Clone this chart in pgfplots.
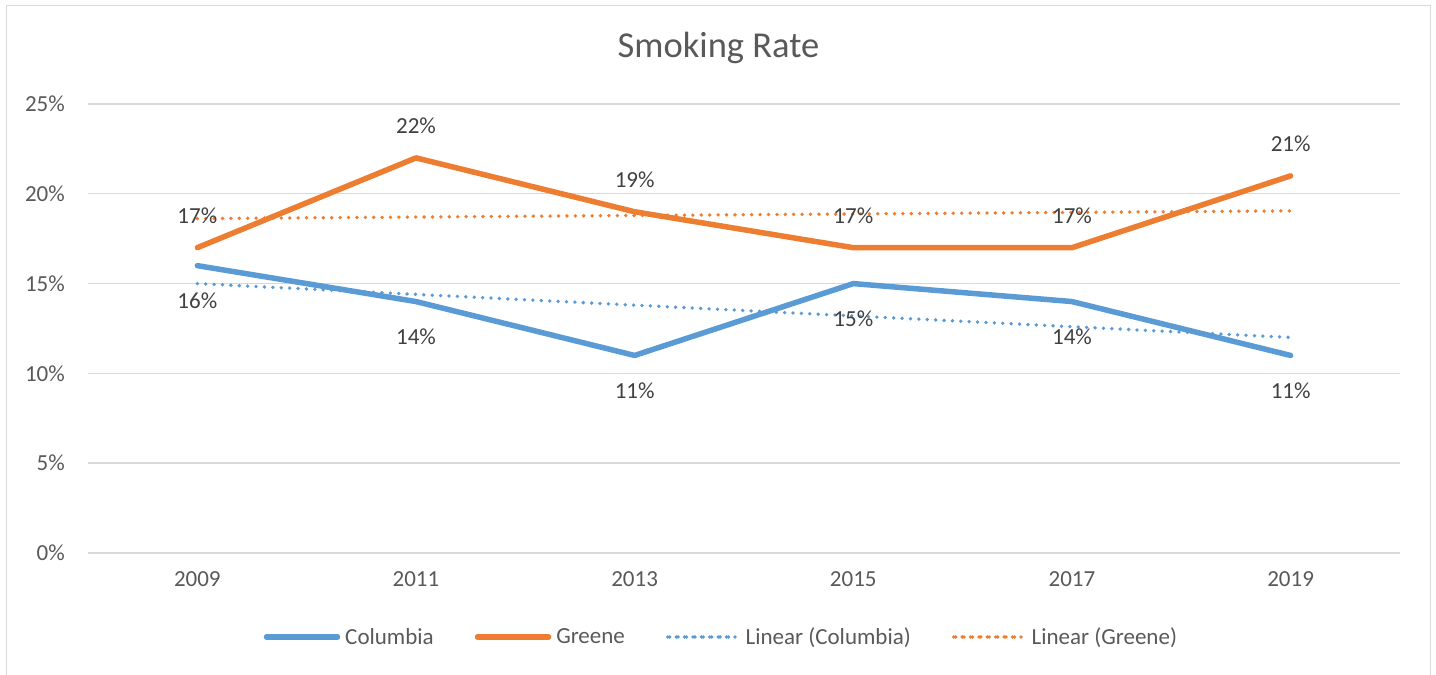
\documentclass[border=0pt]{standalone}
\usepackage{fontspec}
\setmainfont{Carlito}
\usepackage{pgfplots}
\pgfplotsset{compat=1.18}
\definecolor{cblue}{HTML}{5B9BD5}
\definecolor{corange}{HTML}{ED7D31}
\definecolor{gridc}{HTML}{D9D9D9}
\definecolor{ticktext}{HTML}{595959}
\definecolor{labtext}{HTML}{404040}
\newcommand{\lbl}{\fontsize{23}{27}\selectfont}
\pgfplotsset{
  solidleg/.style={legend image code/.code={\path (0pt,0pt) -- (71pt,0pt); \draw[##1] (2.75pt,0pt) -- (68.25pt,0pt);}},
  dotleg/.style={legend image code/.code={\path (0pt,0pt) -- (71pt,0pt); \draw[##1] (1.9pt,0pt) -- (64pt,0pt);}},
}
\begin{document}
\begin{tikzpicture}[x=1pt,y=1pt]
\useasboundingbox (0,0) rectangle (1436,675);
\draw[gridc, line width=1.6pt] (6.5,-10) -- (6.5,669.5) -- (1430.5,669.5) -- (1430.5,-10);
\node[text=ticktext, font=\fontsize{36.5}{42}\selectfont] at (718.5,627) {Smoking Rate};
\begin{axis}[
  at={(88pt,122pt)}, anchor=south west,
  scale only axis, width=1312pt, height=449pt,
  xmin=-0.5, xmax=5.5, ymin=0, ymax=25,
  xtick={0,1,2,3,4,5},
  xticklabels={2009,2011,2013,2015,2017,2019},
  ytick={0,5,10,15,20,25},
  yticklabels={0\%,5\%,10\%,15\%,20\%,25\%},
  ymajorgrids, grid style={gridc, line width=1.4pt},
  axis line style={draw=none}, tick style={draw=none},
  yticklabel style={anchor=east, inner sep=0pt, xshift=-23pt, text=ticktext, font=\lbl},
  xticklabel style={anchor=north, inner sep=0pt, yshift=-18pt, text=ticktext, font=\lbl},
  clip=false,
  legend columns=4,
  legend style={at={(0.482,-0.187)}, anchor=center, draw=none, fill=none, inner sep=0pt,
    font=\lbl, text=ticktext,
    nodes={inner sep=0pt},
    /tikz/every odd column/.append style={column sep=5pt},
    /tikz/every even column/.append style={column sep=41pt}},
]
\addplot[cblue, line width=5.5pt, line cap=round, line join=round, solidleg,
  point meta=explicit symbolic, nodes near coords,
  nodes near coords style={anchor=center, yshift=-35pt, text=labtext, font=\lbl, inner sep=0pt}]
  coordinates {(0,16) [16\%] (1,14) [14\%] (2,11) [11\%] (3,15) [15\%] (4,14) [14\%] (5,11) [11\%]};
\addlegendentry{Columbia}
\addplot[corange, line width=5.5pt, line cap=round, line join=round, solidleg,
  point meta=explicit symbolic, nodes near coords,
  nodes near coords style={anchor=center, yshift=32pt, text=labtext, font=\lbl, inner sep=0pt}]
  coordinates {(0,17) [17\%] (1,22) [22\%] (2,19) [19\%] (3,17) [17\%] (4,17) [17\%] (5,21) [21\%]};
\addlegendentry{Greene}
\addplot[cblue, line width=3.8pt, line cap=round, dash pattern=on 0pt off 8.4pt, dotleg]
  coordinates {(0,15.0) (5,12.0)};
\addlegendentry{Linear (Columbia)}
\addplot[corange, line width=3.8pt, line cap=round, dash pattern=on 0pt off 8.4pt, dotleg]
  coordinates {(0,18.62) (5,19.05)};
\addlegendentry{Linear (Greene)}
\end{axis}
\end{tikzpicture}
\end{document}
